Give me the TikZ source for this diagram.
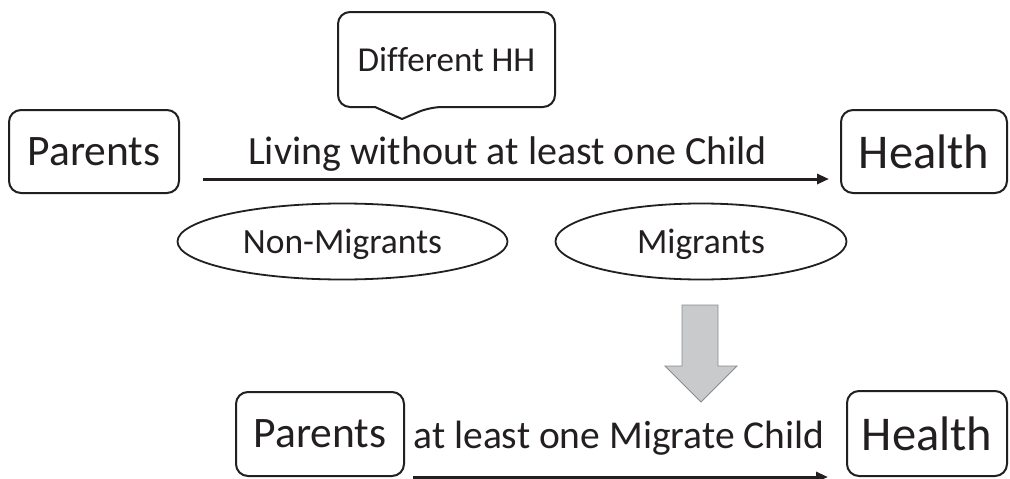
\documentclass[tikz,border=0pt]{standalone}
\usepackage{fontspec}
\setmainfont{Carlito}[Ligatures={NoCommon}]
\usetikzlibrary{shapes.geometric,arrows.meta}
\definecolor{ink}{HTML}{231F20}
\definecolor{arrowfill}{HTML}{C9CACC}
\definecolor{arrowline}{HTML}{8A8B8D}
\begin{document}
\begin{tikzpicture}[x=1pt,y=-1pt,
  box/.style={draw=ink, line width=2pt, rounded corners=12pt, inner sep=0pt, text depth=0pt, text=ink},
  oval/.style={ellipse, draw=ink, line width=1.8pt, inner sep=0pt, text depth=0pt, text=ink},
  lbl/.style={inner sep=0pt, text depth=0pt, text=ink},
  conn/.style={draw=ink, line width=3pt, -{Triangle[length=12pt,width=10pt]}},
  fs/.style={font=\fontsize{#1}{#1}\selectfont}
]
\useasboundingbox (0,0) rectangle (1010,479);
\fill[white] (0,0) rectangle (1010,479);

% top row
\node[box, fs=43.5, minimum width=170pt, minimum height=83pt] (P1) at (94,151.5) {Parents};
\node[box, fs=48.5, minimum width=166pt, minimum height=83pt] (H1) at (924,151.5) {Health};
\node[lbl, fs=40] (L1) at (507.5,151) {Living without at least one Child};
\coordinate (a1) at (203,179);
\draw[conn] (a1) -- ([xshift=-11pt]a1 -| H1.west);

% callout
\node[lbl, fs=35] (DH) at (446.5,59.5) {Different HH};
\draw[ink, line width=2pt, line join=round]
  (402,119) -- (375,107) [rounded corners=12pt] -- (338,107) -- (338,12) -- (555,12) -- (555,107) -- (430,107) [sharp corners] -- cycle;

% ellipses
\node[oval, fs=35.5, minimum width=330pt, minimum height=76pt] (NM) at (342.5,241.5) {Non-Migrants};
\node[oval, fs=35.5, minimum width=291pt, minimum height=76pt] (MG) at (701,241.5) {Migrants};

% block arrow
\draw[fill=arrowfill, draw=arrowline, line width=0.8pt, line join=miter]
  (682,305) -- (718,305) -- (718,366) -- (737,366) -- (701,402) -- (665,366) -- (682,366) -- cycle;

% bottom row
\node[box, fs=43.5, minimum width=168pt, minimum height=84pt] (P2) at (320,434) {Parents};
\node[box, fs=48.5, minimum width=160pt, minimum height=85pt] (H2) at (927,433.5) {Health};
\node[lbl, fs=39.5] (L2) at (619,435) {at least one Migrate Child};
\coordinate (a2) at (413,477);
\draw[conn] (a2) -- ([xshift=-18pt]a2 -| H2.west);
\end{tikzpicture}
\end{document}
